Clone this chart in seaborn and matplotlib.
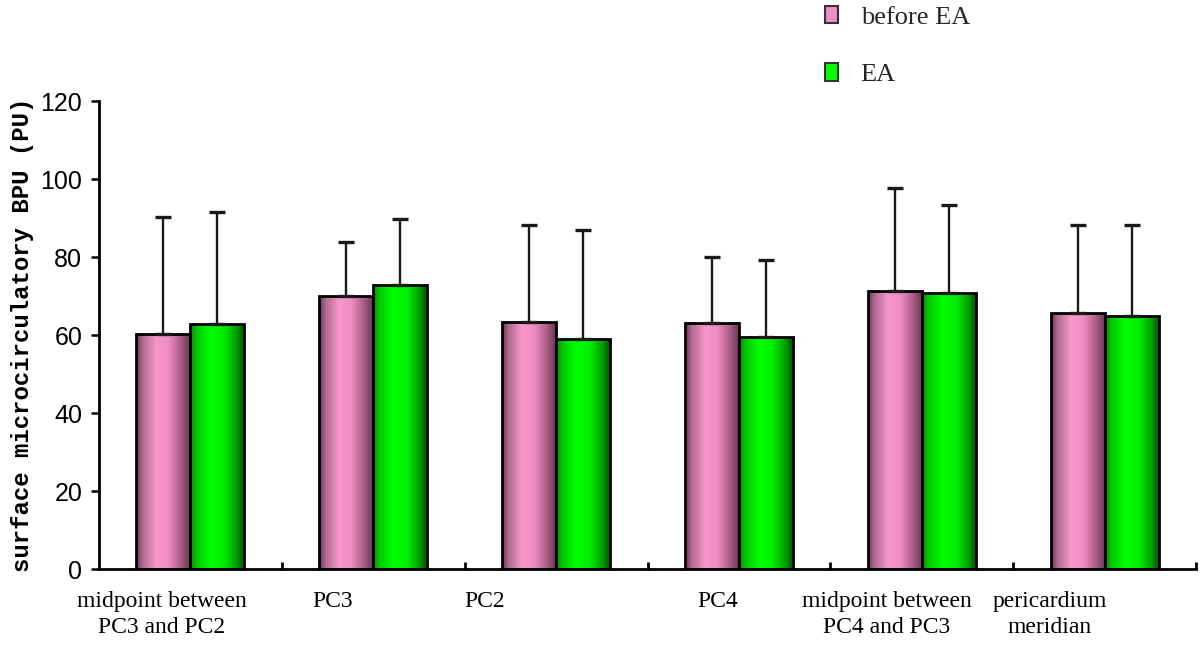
import numpy as np
import pandas as pd
import matplotlib
matplotlib.use("Agg")
import matplotlib.pyplot as plt
from matplotlib.colors import LinearSegmentedColormap
from matplotlib.patches import Patch
import matplotlib.transforms as mtransforms
import seaborn as sns

# ---- data ----
categories = ["midpoint between\nPC3 and PC2", "PC3", "PC2", "PC4",
              "midpoint between\nPC4 and PC3", "pericardium\nmeridian"]
series_names = ["before EA", "EA"]
before_mean = [60.3, 69.9, 63.4, 63.1, 71.2, 65.7]
ea_mean = [62.9, 72.8, 58.9, 59.6, 70.7, 64.8]
before_sd = [29.9, 13.9, 24.8, 16.8, 26.4, 22.6]
ea_sd = [28.6, 16.9, 27.9, 19.6, 22.7, 23.5]
y_ticks = [0, 20, 40, 60, 80, 100, 120]

df = pd.DataFrame({
    "site": categories * 2,
    "group": [series_names[0]] * 6 + [series_names[1]] * 6,
    "value": before_mean + ea_mean,
})

pink = "#f08cc4"
green = "#00ff00"
palette = {series_names[0]: pink, series_names[1]: green}

sns.set_theme(style="white")
plt.rcParams["font.family"] = ["Liberation Serif", "DejaVu Serif"]

fig = plt.figure(figsize=(12, 6.45), dpi=100)
ax = fig.add_axes([0.0825, 0.1178, 0.9142, 0.7256])

sns.barplot(data=df, x="site", y="value", hue="group", order=categories,
            hue_order=series_names, palette=palette, width=0.59, gap=0,
            edgecolor="black", linewidth=2.0, saturation=1, legend=False, ax=ax)

# gradient ("cylinder") shading clipped to each bar
grads = {
    series_names[0]: LinearSegmentedColormap.from_list(
        "p", [(0, "#6a3452"), (0.12, "#b06a90"), (0.38, "#f898cc"),
              (0.6, "#f08cc4"), (0.85, "#a45a82"), (1, "#6c3656")]),
    series_names[1]: LinearSegmentedColormap.from_list(
        "g", [(0, "#008a00"), (0.12, "#00c800"), (0.38, "#00ff00"),
              (0.62, "#00f000"), (0.86, "#00a000"), (1, "#005400")]),
}
sds = {series_names[0]: before_sd, series_names[1]: ea_sd}
means = {series_names[0]: before_mean, series_names[1]: ea_mean}
ramp = np.linspace(0, 1, 256)[np.newaxis, :]
for name, cont in zip(series_names, ax.containers):
    xs = []
    for p in cont.patches:
        x0, y0, w, h = p.get_x(), p.get_y(), p.get_width(), p.get_height()
        im = ax.imshow(ramp, cmap=grads[name], extent=(x0, x0 + w, y0, y0 + h),
                       aspect="auto", zorder=1, interpolation="bicubic")
        im.set_clip_path(p)
        p.set_facecolor("none")
        p.set_zorder(2)
        xs.append(x0 + w / 2)
    ax.errorbar(xs, means[name], yerr=[np.zeros(len(xs)), sds[name]],
                fmt="none", ecolor="#1a1a1a", elinewidth=1.7, capsize=5.5,
                capthick=2.4, zorder=3)

ax.set_xlim(-0.5, len(categories) - 0.5)
ax.set_ylim(0, 120)
ax.set_yticks(y_ticks)

for s in ["top", "right"]:
    ax.spines[s].set_visible(False)
for s in ["left", "bottom"]:
    ax.spines[s].set_color("black")
    ax.spines[s].set_linewidth(2)

ax.tick_params(axis="y", direction="out", length=6, width=1.8, color="black",
               pad=6, left=True, labelsize=18, labelcolor="black")
for lab in ax.get_yticklabels():
    lab.set_family(["Liberation Sans Narrow", "Liberation Sans", "DejaVu Sans"])
ax.set_xticks(np.arange(len(categories)) + 0.5, minor=True)
ax.set_xticks(np.arange(len(categories)), minor=False)
ax.set_xticklabels(categories, fontsize=17, linespacing=1.3, color="black")
ax.tick_params(axis="x", which="major", length=0, pad=16, bottom=False)
ax.tick_params(axis="x", which="minor", direction="in", length=5, width=2,
               bottom=True, color="black")

# individual label offsets (pixels) to follow the reference layout
label_dx = [-29, -41, -71, -21, -35, -55]
for lab, dx in zip(ax.get_xticklabels(), label_dx):
    lab.set_transform(lab.get_transform() +
                      mtransforms.ScaledTranslation(dx / 100, 0, fig.dpi_scale_trans))

ax.set_xlabel("")
ax.set_ylabel("surface microcirculatory BPU (PU)", fontsize=17.3,
              family=["Liberation Mono", "DejaVu Sans Mono"], fontweight="bold",
              labelpad=5, color="black")

handles = [Patch(facecolor=pink, edgecolor="#333333", linewidth=1.5),
           Patch(facecolor=green, edgecolor="#333333", linewidth=1.5)]
fig.legend(handles, series_names, loc="center left",
           bbox_to_anchor=(0.6875, 0.929), frameon=False, fontsize=19,
           handlelength=0.5, handleheight=0.65, handletextpad=0.85,
           labelspacing=1.3, borderpad=0, borderaxespad=0)

fig.savefig("out.png", dpi=100)
